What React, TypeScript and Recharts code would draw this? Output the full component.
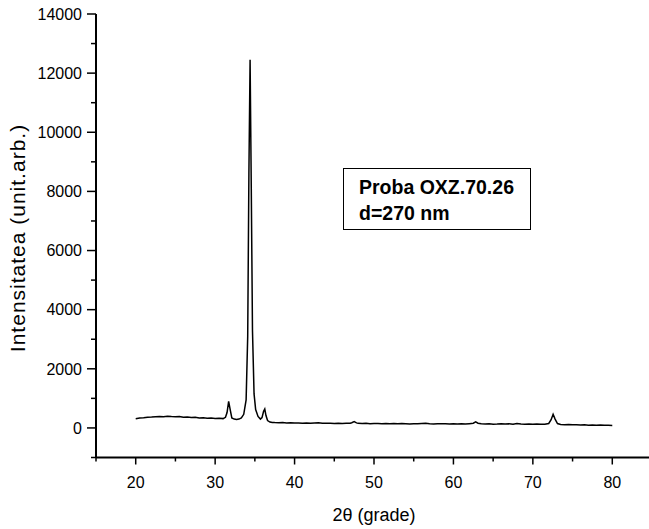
import React from "react";
import { LineChart, Line, XAxis, YAxis } from "recharts";

// 2θ positions (degrees)
const twoTheta = [
  20, 20.5, 21, 21.5, 22, 22.5, 23, 23.5, 24, 24.5, 25, 25.5, 26, 26.5, 27, 27.5, 28, 28.5, 29, 29.5,
  30, 30.5, 31, 31.3, 31.5, 31.7, 31.9, 32.1, 32.4, 32.7, 33, 33.3, 33.6, 33.9, 34.1, 34.25, 34.4,
  34.55, 34.7, 34.9, 35.1, 35.4, 35.7, 35.9, 36.1, 36.25, 36.4, 36.6, 36.9, 37.2, 37.5, 38, 38.5, 39,
  39.5, 40, 40.5, 41, 41.5, 42, 42.5, 43, 43.5, 44, 44.5, 45, 45.5, 46, 46.5, 47, 47.2, 47.5, 47.8,
  48, 48.5, 49, 49.5, 50, 50.5, 51, 51.5, 52, 52.5, 53, 53.5, 54, 54.5, 55, 55.5, 56, 56.5, 57, 57.5,
  58, 58.5, 59, 59.5, 60, 60.5, 61, 61.5, 62, 62.5, 62.8, 63.1, 63.5, 64, 64.5, 65, 65.5, 66, 66.5,
  67, 67.5, 68, 68.5, 69, 69.5, 70, 70.5, 71, 71.5, 72, 72.3, 72.55, 72.8, 73.1, 73.5, 74, 74.5, 75,
  75.5, 76, 76.5, 77, 77.5, 78, 78.5, 79, 79.5, 80,
];

// intensity (unit. arb.)
const intensity = [
  310, 335, 345, 365, 370, 380, 385, 375, 395, 385, 380, 390, 365, 370, 350, 360, 340, 345, 330, 335,
  320, 330, 315, 360, 520, 900, 610, 340, 300, 285, 300, 340, 460, 950, 3100, 8600, 12450,
  8100, 3300, 1150, 620, 390, 300, 350, 560, 640, 420, 250, 200, 185, 180, 175, 185, 170,
  175, 165, 170, 160, 168, 158, 165, 172, 160, 155, 162, 150, 158, 150, 156, 160, 175, 212, 170,
  155, 150, 158, 145, 152, 148, 140, 150, 138, 146, 140, 150, 142, 135, 145, 138, 150, 160, 140, 136,
  145, 138, 142, 132, 140, 135, 142, 130, 145, 160, 205, 160, 140, 130, 138, 128, 135, 145, 130,
  140, 128, 150, 132, 125, 132, 122, 130, 125, 128, 150, 280, 460, 300, 150, 120, 110, 115, 105,
  108, 100, 104, 95, 100, 92, 96, 88, 92, 85,
];

const xMajor = [20, 30, 40, 50, 60, 70, 80];
const xTicks = [15, 20, 25, 30, 35, 40, 45, 50, 55, 60, 65, 70, 75, 80, 85];
const yMajor = [0, 2000, 4000, 6000, 8000, 10000, 12000, 14000];
const yTicks = [-1000, 0, 1000, 2000, 3000, 4000, 5000, 6000, 7000, 8000, 9000, 10000, 11000, 12000, 13000, 14000];

const data = twoTheta.map((t, i) => ({ t, v: intensity[i] }));

const FONT = "Arial, 'Liberation Sans', Helvetica, sans-serif";

function XTick(props: any) {
  const { x, y, payload } = props;
  const major = xMajor.includes(payload.value);
  return (
    <g>
      <line x1={x} x2={x} y1={y} y2={y + (major ? 7 : 4)} stroke="#000" strokeWidth={1.5} />
      {major && (
        <text x={x} y={y + 30} textAnchor="middle" fontSize={16} fontFamily={FONT} fill="#000">
          {payload.value}
        </text>
      )}
    </g>
  );
}

function YTick(props: any) {
  const { x, y, payload } = props;
  const major = yMajor.includes(payload.value);
  return (
    <g>
      <line x1={x - (major ? 9 : 5)} x2={x} y1={y} y2={y} stroke="#000" strokeWidth={1.5} />
      {major && (
        <text x={x - 14} y={y} dy="0.36em" textAnchor="end" fontSize={16} fontFamily={FONT} fill="#000">
          {payload.value}
        </text>
      )}
    </g>
  );
}

export default function App() {
  return (
    <div style={{ position: "absolute", left: 0, top: 0, width: 649, height: 529, overflow: "hidden", background: "#fff" }}>
      <LineChart width={660} height={529} data={data} margin={{ top: 14, right: 8, bottom: 41.5, left: 36 }}>
        <XAxis
          dataKey="t"
          type="number"
          domain={[15, 85]}
          ticks={xTicks}
          interval={0}
          tickSize={0}
          tickMargin={0}
          tick={<XTick />}
          height={30}
          axisLine={{ stroke: "#000", strokeWidth: 2 }}
          tickLine={false}
        />
        <YAxis
          type="number"
          domain={[-1000, 14000]}
          ticks={yTicks}
          interval={0}
          tickSize={0}
          tickMargin={0}
          tick={<YTick />}
          width={60}
          axisLine={{ stroke: "#000", strokeWidth: 2 }}
          tickLine={false}
        />
        <Line
          dataKey="v"
          type="linear"
          stroke="#000"
          strokeWidth={1.5}
          dot={false}
          isAnimationActive={false}
        />
      </LineChart>
      <svg width={649} height={529} style={{ position: "absolute", left: 0, top: 0, pointerEvents: "none" }}>
        <text
          x={0}
          y={0}
          transform="translate(25,238) rotate(-90)"
          textAnchor="middle"
          fontSize={21}
          letterSpacing={1}
          fontFamily={FONT}
          fill="#000"
        >
          Intensitatea (unit.arb.)
        </text>
        <text x={374} y={521} textAnchor="middle" fontSize={18} fontFamily={FONT} fill="#000">
          2θ (grade)
        </text>
        <rect x={343.5} y={168.5} width={187} height={61} fill="#fff" stroke="#000" strokeWidth={1} />
        <text x={359} y={194} fontSize={19.5} fontWeight="bold" fontFamily={FONT} fill="#000">
          Proba OXZ.70.26
        </text>
        <text x={359} y={219.5} fontSize={19.5} fontWeight="bold" fontFamily={FONT} fill="#000">
          d=270 nm
        </text>
      </svg>
    </div>
  );
}
